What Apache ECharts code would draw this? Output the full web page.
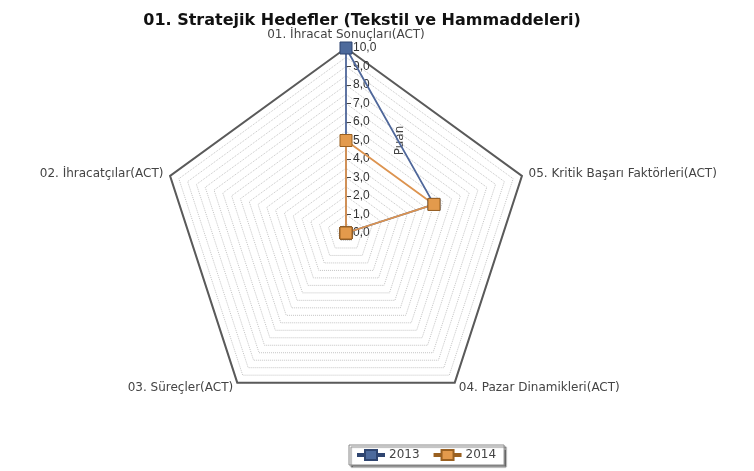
<!DOCTYPE html>
<html>
<head>
<meta charset="utf-8">
<script src="https://cdn.jsdelivr.net/npm/echarts@6/dist/echarts.min.js"></script>
<style>
  html, body { margin: 0; padding: 0; background: #fff; }
  #chart { width: 754px; height: 471px; }
</style>
</head>
<body>
<div id="chart"></div>
<script>
// eksen adlari ve degerler
const indicators = [
  '01. İhracat Sonuçları(ACT)',
  '02. İhracatçılar(ACT)',
  '03. Süreçler(ACT)',
  '04. Pazar Dinamikleri(ACT)',
  '05. Kritik Başarı Faktörleri(ACT)'
]
const values2013 = [10, 0, 0, 0, 5]
const values2014 = [5, 0, 0, 0, 5]
const seriesNames = ['2013', '2014']
const axisMax = 10

const cx = 346
const cy = 233
const R = 185

const blue = '#4d6a9c'
const orange = '#e39a4c'
const legendIcon = 'path://M0,4h7v-4h12v4h7v2h-7v4h-12v-4h-7z'

const myChart = echarts.init(document.getElementById('chart'))

const option = {
  animation: false,
  title: {
    text: '01. Stratejik Hedefler (Tekstil ve Hammaddeleri)',
    left: 357,
    textAlign: 'center',
    top: 8,
    textStyle: { fontFamily: 'DejaVu Sans', fontSize: 16, fontWeight: 'bold', color: '#111' }
  },
  legend: {
    data: seriesNames.map(n => ({ name: n, icon: legendIcon })),
    left: 349,
    top: 445,
    itemWidth: 26,
    itemHeight: 10,
    itemGap: 14,
    padding: [4, 8, 4, 8],
    borderColor: '#888',
    borderWidth: 1,
    backgroundColor: '#fff',
    shadowColor: 'rgba(0,0,0,0.5)',
    shadowOffsetX: 2,
    shadowOffsetY: 2,
    shadowBlur: 1,
    textStyle: { fontFamily: 'DejaVu Sans', fontSize: 12, color: '#444' }
  },
  radar: [
    {
      center: [cx, cy],
      radius: R,
      startAngle: 90,
      splitNumber: 20,
      shape: 'polygon',
      indicator: indicators.map(n => ({ name: n, max: axisMax, min: 0 })),
      axisName: { color: '#444', fontFamily: 'DejaVu Sans', fontSize: 12 },
      nameGap: 7,
      axisLine: { show: false },
      axisTick: { show: false },
      axisLabel: { show: false },
      splitArea: { show: false },
      splitLine: { lineStyle: { color: '#c4c4c4', type: 'dotted', width: 1 } }
    },
    {
      // kalin dis cerceve
      center: [cx, cy],
      radius: R,
      startAngle: 90,
      splitNumber: 1,
      shape: 'polygon',
      indicator: indicators.map(() => ({ name: '', max: axisMax, min: 0 })),
      axisName: { show: false },
      axisLine: { show: false },
      axisTick: { show: false },
      axisLabel: { show: false },
      splitArea: { show: false },
      splitLine: { lineStyle: { color: '#5a5a5a', width: 2 } }
    }
  ],
  // ust eksen uzerindeki deger etiketleri
  grid: { left: cx, top: cy - R, width: 10, height: R, outerBoundsMode: 'none' },
  xAxis: { type: 'value', show: false },
  yAxis: {
    type: 'value',
    min: 0,
    max: axisMax,
    interval: 1,
    name: 'Puan',
    nameLocation: 'middle',
    nameRotate: 90,
    nameGap: -60,
    nameTextStyle: { fontFamily: 'DejaVu Sans', fontSize: 12, color: '#444' },
    axisLine: { show: false },
    axisTick: { show: true, inside: true, length: 5, lineStyle: { color: '#444' } },
    splitLine: { show: false },
    axisLabel: {
      inside: true,
      margin: 7,
      fontFamily: 'Liberation Sans',
      fontSize: 12,
      color: '#333',
      formatter: v => v.toFixed(1).replace('.', ',')
    }
  },
  series: [
    {
      type: 'radar',
      radarIndex: 0,
      z: 3,
      data: [
        {
          name: seriesNames[0],
          value: values2013,
          symbol: 'rect',
          symbolSize: 12,
          lineStyle: { color: '#4f679a', width: 1.8 },
          itemStyle: { color: blue, borderColor: '#2f4570', borderWidth: 1 }
        },
        {
          name: seriesNames[1],
          value: values2014,
          symbol: 'rect',
          symbolSize: 12,
          lineStyle: { color: '#dd9450', width: 1.8 },
          itemStyle: { color: orange, borderColor: '#9a6020', borderWidth: 1 }
        }
      ]
    }
  ]
}

myChart.setOption(option)
</script>
</body>
</html>
